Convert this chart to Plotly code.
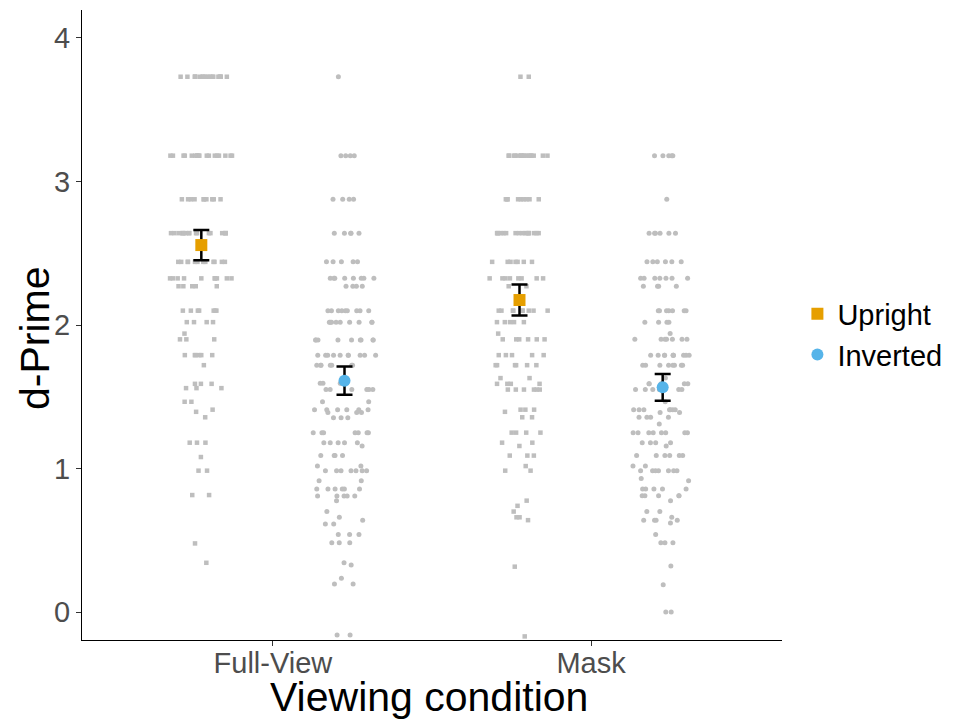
import numpy as np
import plotly.graph_objects as go

conditions = ["Full-View", "Mask"]
orientations = ["Upright", "Inverted"]

# individual d-prime scores: distinct values and how many participants had each
fv_up_vals = [3.73, 3.18, 2.876, 2.64, 2.44, 2.325, 2.27, 2.10, 2.02, 1.94, 1.90, 1.79, 1.72,
              1.59, 1.56, 1.465, 1.41, 1.395, 1.357, 1.18, 1.08, 0.985, 0.815, 0.478, 0.343]
fv_up_cnts = [18, 18, 10, 17, 12, 10, 5, 7, 4, 1, 3, 6, 1,
              3, 3, 2, 1, 1, 1, 3, 1, 2, 2, 1, 1]

fv_inv_vals = [3.73, 3.18, 2.876, 2.64, 2.44, 2.325, 2.27, 2.10, 2.02, 1.895, 1.79, 1.72, 1.594,
               1.55, 1.465, 1.41, 1.39, 1.354, 1.25, 1.18, 1.157, 1.09, 1.017, 0.985, 0.915,
               0.857, 0.808, 0.776, 0.70, 0.66, 0.64, 0.613, 0.54, 0.483, 0.343, 0.328, 0.235,
               0.195, -0.16]
fv_inv_cnts = [1, 4, 4, 5, 5, 8, 4, 9, 9, 9, 10, 7, 4,
               6, 2, 6, 3, 3, 7, 5, 1, 4, 2, 7, 2,
               6, 5, 1, 1, 1, 1, 2, 3, 3, 1, 1, 1,
               2, 2]

mask_up_vals = [3.73, 3.18, 2.876, 2.64, 2.44, 2.325, 2.27, 2.10, 2.02, 1.94, 1.90, 1.79, 1.72,
                1.63, 1.59, 1.55, 1.41, 1.395, 1.357, 1.25, 1.18, 1.157, 1.09, 1.017, 0.985,
                0.776, 0.74, 0.70, 0.66, 0.64, 0.316, -0.17]
mask_up_cnts = [2, 16, 9, 16, 7, 8, 2, 9, 5, 1, 6, 5, 6,
                2, 4, 6, 3, 1, 2, 4, 2, 1, 3, 1, 2,
                1, 1, 1, 2, 1, 1, 1]

mask_inv_vals = [3.18, 2.876, 2.64, 2.44, 2.325, 2.27, 2.10, 2.02, 1.94, 1.90, 1.79, 1.72, 1.63,
                 1.59, 1.55, 1.465, 1.41, 1.39, 1.357, 1.31, 1.25, 1.18, 1.157, 1.09, 1.017,
                 0.985, 0.93, 0.915, 0.857, 0.81, 0.776, 0.70, 0.66, 0.64, 0.62, 0.54, 0.483,
                 0.32, 0.19, 0.0]
mask_inv_cnts = [5, 1, 6, 6, 7, 4, 7, 4, 1, 7, 10, 8, 1,
                 5, 7, 1, 7, 2, 4, 1, 8, 4, 1, 6, 2,
                 7, 1, 1, 5, 5, 1, 2, 1, 4, 1, 1, 3,
                 1, 1, 2]

# group means and error bars
mean_upright = [2.557, 2.174]
err_upright = [0.105, 0.108]
mean_inverted = [1.612, 1.566]
err_inverted = [0.098, 0.093]

y_ticks = [0, 1, 2, 3, 4]
x_title = "Viewing condition"
y_title = "d-Prime"

GRAY = "#BEBEBE"
ORANGE = "#E69F00"
BLUE = "#56B4E9"
FONT = "Liberation Sans, Arial, sans-serif"


def expand(vals, cnts):
    return list(np.repeat(vals, cnts))


up_fv = expand(fv_up_vals, fv_up_cnts)
up_mk = expand(mask_up_vals, mask_up_cnts)
inv_fv = expand(fv_inv_vals, fv_inv_cnts)
inv_mk = expand(mask_inv_vals, mask_inv_cnts)

fig = go.Figure()

box_common = dict(boxpoints="all", pointpos=0, jitter=0.45,
                  line=dict(width=0, color="rgba(0,0,0,0)"),
                  fillcolor="rgba(0,0,0,0)", showlegend=False, hoveron="points")

fig.add_trace(go.Box(
    x=[conditions[0]] * len(up_fv) + [conditions[1]] * len(up_mk),
    y=up_fv + up_mk, name="Upright pts", offsetgroup="Upright",
    marker=dict(symbol="square", size=4.5, color=GRAY), **box_common))
fig.add_trace(go.Box(
    x=[conditions[0]] * len(inv_fv) + [conditions[1]] * len(inv_mk),
    y=inv_fv + inv_mk, name="Inverted pts", offsetgroup="Inverted",
    marker=dict(symbol="circle", size=5, color=GRAY), **box_common))

fig.add_trace(go.Scatter(
    x=conditions, y=mean_upright, mode="markers", name=orientations[0],
    offsetgroup="Upright",
    marker=dict(symbol="square", size=12, color=ORANGE),
    error_y=dict(type="data", array=err_upright, color="black", thickness=2.5, width=8)))
fig.add_trace(go.Scatter(
    x=conditions, y=mean_inverted, mode="markers", name=orientations[1],
    offsetgroup="Inverted",
    marker=dict(symbol="circle", size=12, color=BLUE),
    error_y=dict(type="data", array=err_inverted, color="black", thickness=2.5, width=8)))

fig.update_layout(
    width=974, height=721,
    margin=dict(l=74, r=200, t=2, b=89, autoexpand=False),
    paper_bgcolor="white", plot_bgcolor="white",
    font=dict(family=FONT, color="black"),
    boxmode="group", boxgap=0.1, boxgroupgap=0,
    scattermode="group", scattergap=0.1,
    legend=dict(x=1.022, xanchor="left", y=0.485, yanchor="middle",
                font=dict(size=29, color="black"), itemsizing="constant",
                bgcolor="rgba(0,0,0,0)", tracegroupgap=0),
    xaxis=dict(type="category", categoryorder="array", categoryarray=conditions,
               range=[-0.6, 1.6], showline=True, linecolor="black", linewidth=1,
               ticks="outside", ticklen=5, tickcolor="#333333", showgrid=False, zeroline=False,
               tickfont=dict(size=29, color="#4D4D4D"), automargin=False,
               ticklabelstandoff=-8),
    yaxis=dict(range=[-0.195, 4.195], tickvals=y_ticks, showline=True, linecolor="black",
               linewidth=1, ticks="outside", ticklen=5, tickcolor="#333333", showgrid=False,
               zeroline=False, tickfont=dict(size=29, color="#4D4D4D"), automargin=False),
    annotations=[
        dict(text=x_title, xref="paper", yref="paper", x=0.495, y=-0.0905,
             xanchor="center", yanchor="middle", showarrow=False,
             font=dict(size=41, color="black")),
        dict(text=y_title, xref="paper", yref="paper", x=-0.0671, y=0.4794,
             xanchor="center", yanchor="middle", showarrow=False, textangle=-90,
             font=dict(size=41, color="black")),
    ],
)

fig.write_html("out.html")
